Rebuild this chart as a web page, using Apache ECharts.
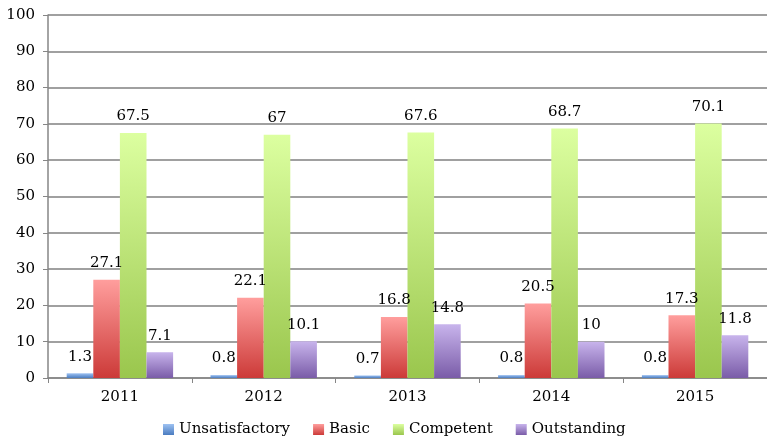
<!DOCTYPE html>
<html>
<head>
<meta charset="utf-8">
<script src="https://cdn.jsdelivr.net/npm/echarts@6/dist/echarts.min.js"></script>
<style>
html,body{margin:0;padding:0;background:#fff;}
#chart{width:767px;height:441px;}
</style>
</head>
<body>
<div id="chart"></div>
<script>
var categories = ['2011', '2012', '2013', '2014', '2015'];
var unsatisfactory = [1.3, 0.8, 0.7, 0.8, 0.8];
var basic = [27.1, 22.1, 16.8, 20.5, 17.3];
var competent = [67.5, 67, 67.6, 68.7, 70.1];
var outstanding = [7.1, 10.1, 14.8, 10, 11.8];
var seriesNames = ['Unsatisfactory', 'Basic', 'Competent', 'Outstanding'];

var FONT = '"DejaVu Serif", serif';
function grad(top, bottom) {
  return new echarts.graphic.LinearGradient(0, 0, 0, 1, [
    {offset: 0, color: top}, {offset: 1, color: bottom}
  ]);
}
var colors = [
  ['#9ec2f2', '#4a7cc0'],
  ['#ff9e9d', '#cc3a38'],
  ['#dcffa0', '#9ac64d'],
  ['#c8b4ec', '#7a5ca8']
];
var dataSets = [unsatisfactory, basic, competent, outstanding];

var chart = echarts.init(document.getElementById('chart'), null, {renderer: 'canvas'});
chart.setOption({
  animation: false,
  backgroundColor: '#fff',
  grid: {left: 48, right: -9, top: 15, bottom: 63, containLabel: false},
  legend: {
    top: 417,
    left: 158,
    itemWidth: 11,
    itemHeight: 11,
    itemGap: 23,
    itemStyle: {borderWidth: 0},
    icon: 'rect',
    textStyle: {fontFamily: FONT, fontSize: 15, color: '#000'},
    data: seriesNames
  },
  xAxis: {
    type: 'category',
    data: categories,
    axisLine: {lineStyle: {color: '#868686', width: 1.5}},
    axisTick: {show: true, length: 5, lineStyle: {color: '#868686'}},
    axisLabel: {fontFamily: FONT, fontSize: 15, color: '#000', margin: 12}
  },
  yAxis: {
    type: 'value',
    min: 0, max: 100, interval: 10,
    axisLine: {show: true, lineStyle: {color: '#868686', width: 1.5}},
    axisTick: {show: true, length: 5, lineStyle: {color: '#868686'}},
    axisLabel: {fontFamily: FONT, fontSize: 15, color: '#000', margin: 13},
    splitLine: {lineStyle: {color: '#808080', width: 1.5}}
  },
  series: seriesNames.map(function (name, i) {
    return {
      name: name,
      type: 'bar',
      data: dataSets[i],
      barGap: '0%',
      barCategoryGap: '26%',
      itemStyle: {color: grad(colors[i][0], colors[i][1])},
      label: {
        show: true,
        position: 'top',
        distance: 9,
        fontFamily: FONT,
        fontSize: 15,
        color: '#000'
      }
    };
  })
});
</script>
</body>
</html>
